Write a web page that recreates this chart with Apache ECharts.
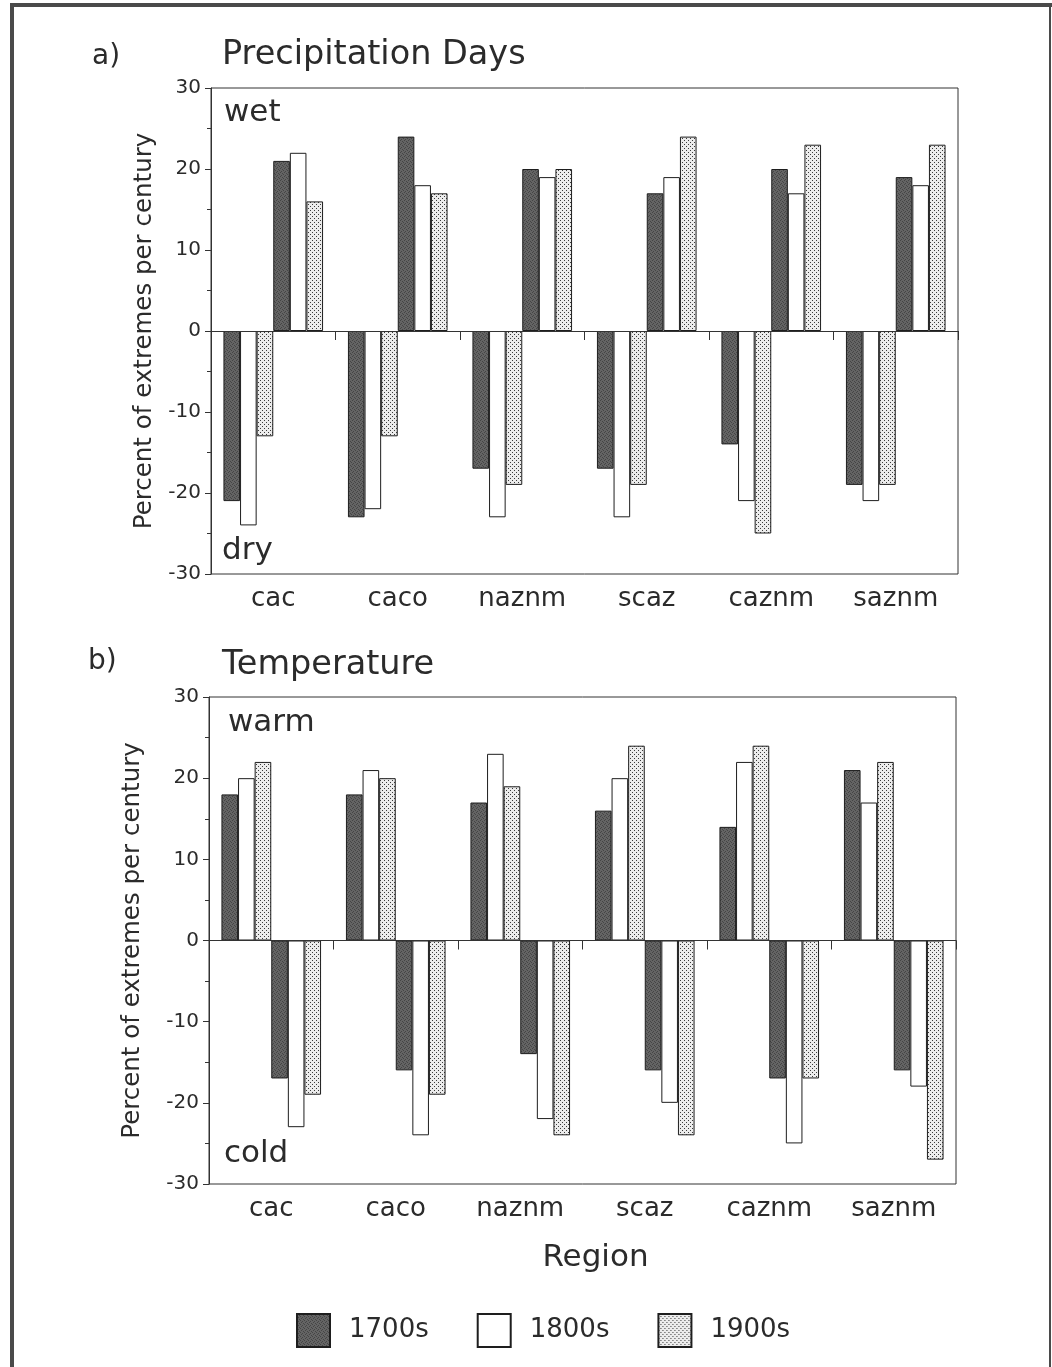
<!DOCTYPE html>
<html>
<head>
<meta charset="utf-8">
<script src="https://cdn.jsdelivr.net/npm/echarts@6/dist/echarts.min.js"></script>
<style>
html,body{margin:0;padding:0;background:#fff;}
#c{width:1052px;height:1367px;}
</style>
</head>
<body>
<div id="c"></div>
<script>
// ---- data ----
const regions = ['cac', 'caco', 'naznm', 'scaz', 'caznm', 'saznm'];
const decades = ['1700s', '1800s', '1900s'];
const yTicks = [-30, -20, -10, 0, 10, 20, 30];

// Panel a: Precipitation Days
const precipDry1700 = [-21, -23, -17, -17, -14, -19];
const precipDry1800 = [-24, -22, -23, -23, -21, -21];
const precipDry1900 = [-13, -13, -19, -19, -25, -19];
const precipWet1700 = [21, 24, 20, 17, 20, 19];
const precipWet1800 = [22, 18, 19, 19, 17, 18];
const precipWet1900 = [16, 17, 20, 24, 23, 23];

// Panel b: Temperature
const tempWarm1700 = [18, 18, 17, 16, 14, 21];
const tempWarm1800 = [20, 21, 23, 20, 22, 17];
const tempWarm1900 = [22, 20, 19, 24, 24, 22];
const tempCold1700 = [-17, -16, -14, -16, -17, -16];
const tempCold1800 = [-23, -24, -22, -20, -25, -18];
const tempCold1900 = [-19, -19, -24, -24, -17, -27];

// ---- fills ----
function makePattern(size, bg, dots, dotColor) {
  const cv = document.createElement('canvas');
  cv.width = size; cv.height = size;
  const ctx = cv.getContext('2d');
  ctx.fillStyle = bg; ctx.fillRect(0, 0, size, size);
  ctx.fillStyle = dotColor;
  dots.forEach(d => ctx.fillRect(d[0], d[1], 1, 1));
  return { image: cv, repeat: 'repeat' };
}
const fill1700 = makePattern(4, '#646464', [[0,0],[2,1],[1,3],[3,2]], '#454545');
const fill1800 = '#ffffff';
const fill1900 = makePattern(4, '#ececec', [[0,0],[2,2]], '#3a3a3a');

const FONT = 'DejaVu Sans';
const TXT = '#2b2b2b';

function barSeries(name, data, idx, fill, withZero) {
  const s = {
    name: name, type: 'bar', xAxisIndex: idx, yAxisIndex: idx,
    data: data, barGap: '0%', barCategoryGap: '20%',
    itemStyle: { color: fill, borderColor: '#1e1e1e', borderWidth: 1 },
    emphasis: { disabled: true }, animation: false
  };
  if (withZero) {
    s.markLine = {
      silent: true, symbol: 'none', animation: false,
      label: { show: false },
      lineStyle: { color: '#333', width: 1, type: 'solid' },
      data: [{ yAxis: 0 }]
    };
  }
  return s;
}

const grids = [
  { left: 211, top: 88, width: 747, height: 486 },
  { left: 209, top: 697, width: 747, height: 487 }
];

function xAx(idx, withName) {
  const a = {
    type: 'category', gridIndex: idx, data: regions, position: 'bottom',
    axisLine: { show: true, lineStyle: { color: '#333', width: 1 } },
    axisTick: { show: true, length: 9, lineStyle: { color: '#333' } },
    axisLabel: { fontFamily: FONT, fontSize: 26, color: TXT, margin: 12 },
    splitLine: { show: false }
  };
  if (withName) {
    a.name = 'Region'; a.nameLocation = 'middle'; a.nameGap = 58;
    a.nameTextStyle = { fontFamily: FONT, fontSize: 31, color: TXT, padding: [0, 0, 0, 26] };
  }
  return a;
}
function yAx(idx, gap) {
  return {
    type: 'value', gridIndex: idx, min: -30, max: 30, interval: 10,
    name: 'Percent of extremes per century', nameLocation: 'middle',
    nameGap: gap, nameRotate: 90,
    nameTextStyle: { fontFamily: FONT, fontSize: 24.5, color: TXT },
    axisLine: { show: true, lineStyle: { color: '#333', width: 1 } },
    axisTick: { show: true, length: 6, lineStyle: { color: '#333' } },
    minorTick: { show: true, splitNumber: 2, length: 4, lineStyle: { color: '#333' } },
    axisLabel: { fontFamily: FONT, fontSize: 20, color: TXT, margin: 10,
      formatter: v => (yTicks.indexOf(v) >= 0 ? String(v) : '') },
    splitLine: { show: false }
  };
}

const series = [
  barSeries('1700s', precipDry1700, 0, fill1700, true),
  barSeries('1800s', precipDry1800, 0, fill1800),
  barSeries('1900s', precipDry1900, 0, fill1900),
  barSeries('1700s', precipWet1700, 0, fill1700),
  barSeries('1800s', precipWet1800, 0, fill1800),
  barSeries('1900s', precipWet1900, 0, fill1900),
  barSeries('1700s', tempWarm1700, 1, fill1700, true),
  barSeries('1800s', tempWarm1800, 1, fill1800),
  barSeries('1900s', tempWarm1900, 1, fill1900),
  barSeries('1700s', tempCold1700, 1, fill1700),
  barSeries('1800s', tempCold1800, 1, fill1800),
  barSeries('1900s', tempCold1900, 1, fill1900)
];

function txt(x, y, s, size) {
  return {
    type: 'text', left: x, top: y, silent: true,
    style: { text: s, fontFamily: FONT, fontSize: size, fill: TXT }
  };
}
function frameLine(x1, y1, x2, y2, w) {
  return { type: 'line', silent: true, shape: { x1: x1, y1: y1, x2: x2, y2: y2 },
    style: { stroke: '#4a4a4a', lineWidth: w } };
}

const option = {
  backgroundColor: '#ffffff',
  animation: false,
  grid: grids.map(g => Object.assign({ show: true, borderColor: '#333', borderWidth: 1, backgroundColor: 'transparent' }, g)),
  xAxis: [xAx(0, false), xAx(1, true)],
  yAxis: [yAx(0, 51), yAx(1, 64)],
  legend: {
    data: decades, left: 296, top: 1313, orient: 'horizontal', padding: 0,
    itemWidth: 33, itemHeight: 33, itemGap: 48,
    icon: 'rect',
    textStyle: { fontFamily: FONT, fontSize: 26, color: TXT, padding: [0, 0, 0, 14] },
    selectedMode: false
  },
  series: series,
  graphic: [
    // scanned page frame
    frameLine(12, 3, 12, 1367, 4),
    frameLine(10, 5, 1052, 5, 4),
    frameLine(1050, 5, 1050, 1367, 2),
    txt(92, 43, 'a)', 28),
    txt(222, 38, 'Precipitation Days', 33.5),
    txt(224, 97, 'wet', 31),
    txt(222, 535, 'dry', 31),
    txt(88, 648, 'b)', 28),
    txt(222, 648, 'Temperature', 33.5),
    txt(228, 707, 'warm', 31),
    txt(224, 1138, 'cold', 31)
  ]
};

const chart = echarts.init(document.getElementById('c'), null, { renderer: 'canvas' });
chart.setOption(option);
</script>
</body>
</html>
